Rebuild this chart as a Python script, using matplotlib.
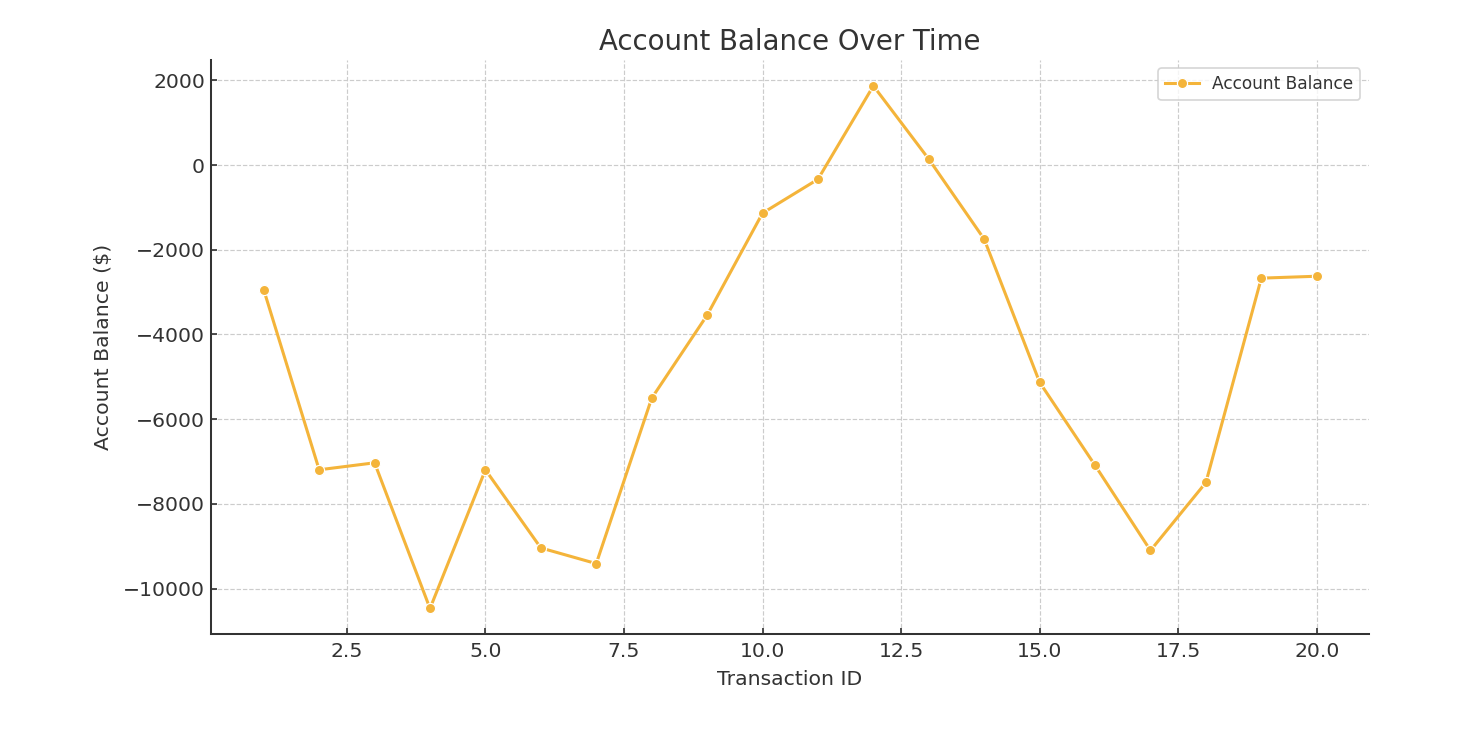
import numpy as np
import matplotlib.pyplot as plt

# -------------------------------
# Data
# -------------------------------
transaction_ids = list(range(1, 21))
balances = [
    -2945, -7195, -7030, -10470, -7195, -9040, -9410, -5505, -3545, -1135,
    -335, 1870, 140, -1750, -5130, -7090, -9100, -7495, -2670, -2625,
]

line_color = "#F4B43A"
text_color = "#333333"

# -------------------------------
# Figure
# -------------------------------
fig = plt.figure(figsize=(12, 6), dpi=122)
ax = fig.add_axes([0.144, 0.134, 0.791, 0.784])

ax.plot(
    transaction_ids, balances,
    color=line_color, linewidth=1.8,
    marker="o", markersize=6,
    markeredgecolor="white", markeredgewidth=0.7,
    label="Account Balance",
)

ax.grid(True, linestyle="--", color="#cccccc", linewidth=0.7)
ax.set_axisbelow(True)
for side in ("top", "right"):
    ax.spines[side].set_visible(False)
for side in ("left", "bottom"):
    ax.spines[side].set_color("#333333")
    ax.spines[side].set_linewidth(1.2)

ax.set_xlim(0.045, 20.94)
ax.set_ylim(-11070, 2480)
ax.set_xticks([2.5, 5.0, 7.5, 10.0, 12.5, 15.0, 17.5, 20.0])
ax.set_yticks([2000, 0, -2000, -4000, -6000, -8000, -10000])
ax.tick_params(labelsize=12, colors=text_color, direction="in", length=3.5, width=1)
ax.tick_params(axis="x", pad=5)

ax.set_title("Account Balance Over Time", fontsize=16.3, color=text_color)
ax.set_xlabel("Transaction ID", fontsize=12, color=text_color, labelpad=5)
ax.set_ylabel("Account Balance ($)", fontsize=12, color=text_color, labelpad=6)

leg = ax.legend(loc="upper right", fontsize=10, frameon=True)
for t in leg.get_texts():
    t.set_color(text_color)

fig.savefig("out.png", dpi=122)
